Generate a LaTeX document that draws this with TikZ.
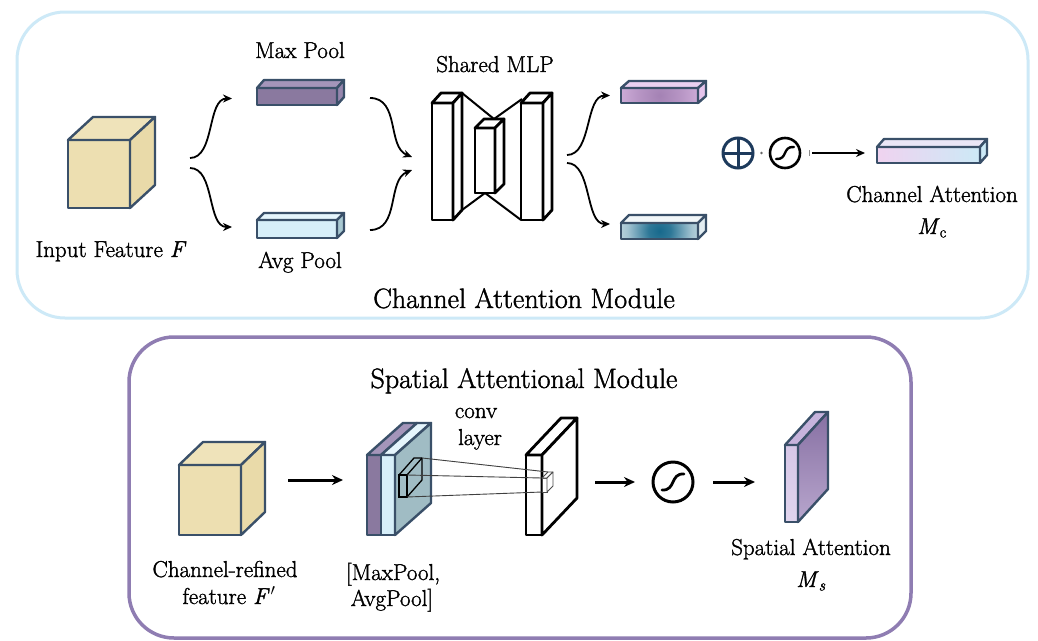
\RequirePackage{fix-cm}
\documentclass[tikz,border=0pt]{standalone}
\usepackage{fontspec}
\setmainfont{Latin Modern Roman}[FakeBold=1.4]
\usetikzlibrary{calc,arrows.meta}

% palette
\definecolor{edgec}{HTML}{3A5069}
\definecolor{cubefront}{HTML}{EDDFB1}
\definecolor{cubetop}{HTML}{EFE3BA}
\definecolor{cubeside}{HTML}{E9DAA9}
\definecolor{maxfront}{HTML}{8A799F}
\definecolor{maxtop}{HTML}{A495BA}
\definecolor{maxside}{HTML}{9686AD}
\definecolor{avgfront}{HTML}{D7EFF9}
\definecolor{avgtop}{HTML}{E5F5FC}
\definecolor{avgside}{HTML}{A8C8D1}
\definecolor{chframe}{HTML}{CDE9F7}
\definecolor{spframe}{HTML}{8F7DB2}
\definecolor{navy}{HTML}{1D3A5C}
\definecolor{tealdk}{HTML}{17698C}
\definecolor{lilac}{HTML}{E5C4EC}
\definecolor{lilacdk}{HTML}{A482B4}
\definecolor{mcpink}{HTML}{F0D3F0}
\definecolor{mcblue}{HTML}{CCE9F6}
\definecolor{stackside}{HTML}{A0BCC4}
\definecolor{spfront}{HTML}{D9CAE9}
\definecolor{sptop}{HTML}{C6B3DC}
\definecolor{spsidetop}{HTML}{8770A3}
\definecolor{spsidebot}{HTML}{B8A6CD}

% soft spots for the pooled descriptors after the MLP
\pgfdeclareradialshading{tealspot}{\pgfpoint{0bp}{0bp}}{color(0bp)=(tealdk); color(7bp)=(tealdk!90!white); color(20bp)=(tealdk!40!white); color(35bp)=(tealdk!10!white); color(50bp)=(white)}
\pgfdeclareradialshading{lilacspot}{\pgfpoint{0bp}{0bp}}{color(0bp)=(lilacdk); color(12bp)=(lilacdk!70!lilac); color(30bp)=(lilac!90!lilacdk); color(50bp)=(lilac)}

% top and right faces of a box whose front face is the node #1
% #2,#3 depth offset, #4 top fill, #5 side fill, #6 stroke options
\newcommand\boxfaces[6]{%
  \filldraw[boxedge, #6, fill=#4] (#1.north west) -- ++(#2,#3) -- ($(#1.north east)+(#2,#3)$) -- (#1.north east) -- cycle;
  \filldraw[boxedge, #6, fill=#5] (#1.north east) -- ++(#2,#3) -- ($(#1.south east)+(#2,#3)$) -- (#1.south east) -- cycle;}

\tikzset{
  boxedge/.style={line width=2.4pt, line join=round},
  face/.style={rectangle, line width=2.4pt, line join=round, inner sep=0pt, outer sep=0pt},
  lbl/.style={font=\fontsize{23}{27}\selectfont, anchor=base, inner sep=0pt},
  ttl/.style={font=\fontsize{28}{32}\selectfont, anchor=base, inner sep=0pt},
  flow/.style={line width=1.8pt, -{Stealth[length=9pt,width=8pt]}},
  bigflow/.style={line width=3pt, -{Stealth[length=11pt,width=10pt]}},
  mlpwire/.style={line width=2pt},
  thinwire/.style={line width=0.9pt, black!75},
  sigpath/.style={line width=2.4pt, line cap=round},
}

\begin{document}
\begin{tikzpicture}[x=1pt, y=-1pt]
\useasboundingbox (0,0) rectangle (1038,640);
\fill[white] (0,0) rectangle (1038,640);

% ---------------- module frames ----------------
\draw[line width=3pt, draw=chframe, rounded corners=48pt] (17,12) rectangle (1028,318);
\draw[line width=3.5pt, draw=spframe, rounded corners=45pt] (129,337) rectangle (911,638);

% ================= channel attention =================
% input feature cube
\node[face, draw=edgec, fill=cubefront, minimum width=62pt, minimum height=68pt, anchor=north west] (cubeA) at (68,140) {};
\boxfaces{cubeA}{25}{-23}{cubetop}{cubeside}{draw=edgec}
\node[lbl] (lblIn) at (111,257) {Input Feature \textit{F}};

% pooled descriptors
\node[face, draw=edgec, fill=maxfront, minimum width=80pt, minimum height=17pt, anchor=north west] (maxp) at (257,88) {};
\boxfaces{maxp}{7}{-8}{maxtop}{maxside}{draw=edgec}
\node[face, draw=edgec, fill=avgfront, minimum width=80pt, minimum height=18pt, anchor=north west] (avgp) at (257,220) {};
\boxfaces{avgp}{7}{-7}{avgtop}{avgside}{draw=edgec}
\node[lbl] (lblMax) at (300,58) {Max Pool};
\node[lbl] (lblAvg) at (300,268) {Avg Pool};

% shared MLP
\node[face, draw=black, line width=2.8pt, fill=white, minimum width=21pt, minimum height=117pt, anchor=north west] (mlpL) at (432,103) {};
\node[face, draw=black, line width=2.8pt, fill=white, minimum width=22pt, minimum height=117pt, anchor=north west] (mlpR) at (521,103) {};
\node[face, draw=black, line width=2.8pt, fill=white, minimum width=20pt, minimum height=65pt, anchor=north west] (mlpM) at (475,128) {};
\draw[mlpwire] ($(mlpL.north east)+(9,-10)$) -- ($(mlpM.north)+(9,-9)$);
\draw[mlpwire] ($(mlpR.north west)+(1,-4)$) -- ($(mlpM.north)+(9,-9)$);
\draw[mlpwire] ($(mlpL.south east)+(9,-10)$) -- (mlpM.south);
\draw[mlpwire] (mlpR.south west) -- (mlpM.south);
\boxfaces{mlpL}{9}{-10}{white}{white}{draw=black, line width=2.8pt}
\boxfaces{mlpR}{9}{-10}{white}{white}{draw=black, line width=2.8pt}
\node[face, draw=black, line width=2.8pt, fill=white, minimum width=20pt, minimum height=65pt, anchor=north west] (mlpM2) at (475,128) {};
\boxfaces{mlpM2}{9}{-9}{white}{white}{draw=black, line width=2.8pt}
\node[lbl] (lblMLP) at (495,72) {Shared MLP};

% MLP outputs
\node[face, draw=edgec, minimum width=77pt, minimum height=15pt, anchor=north west,
      path picture={\shade[shading=lilacspot] (path picture bounding box.center) circle (45pt);}] (outA) at (621,88) {};
\boxfaces{outA}{8}{-7}{lilac!80!white}{lilac}{draw=edgec}
\node[face, draw=edgec, minimum width=77pt, minimum height=16pt, anchor=north west,
      path picture={\shade[shading=tealspot] (path picture bounding box.center) circle (40pt);}] (outB) at (621,223) {};
\boxfaces{outB}{8}{-8}{tealdk!6!white}{tealdk!12!white}{draw=edgec}

% curved flows
\draw[flow] ($(cubeA.east)+(60,-16)$) .. controls +(25,0) and +(-25,0) .. ($(maxp.west)+(-25,2)$);
\draw[flow] ($(cubeA.east)+(60,-6)$) .. controls +(25,0) and +(-25,0) .. ($(avgp.west)+(-25,-2)$);
\draw[flow] ($(maxp.east)+(33,1.5)$) .. controls +(30,0) and +(-25,-10) .. ($(mlpL.west)+(-20,-4.5)$);
\draw[flow] ($(avgp.east)+(33,1)$) .. controls +(30,0) and +(-25,10) .. ($(mlpL.west)+(-20,8.5)$);
\draw[flow] ($(mlpR.east)+(24,-6.5)$) .. controls +(25,0) and +(-25,0) .. ($(outA.west)+(-11,0)$);
\draw[flow] ($(mlpR.east)+(24,1.5)$) .. controls +(25,0) and +(-25,0) .. ($(outB.west)+(-11,-7)$);

% sum and sigmoid
\node[circle, draw=navy, line width=3pt, minimum size=30pt, inner sep=0pt, outer sep=0pt] (plus) at (738,153) {};
\draw[navy, line width=3pt] (plus.north) -- (plus.south) (plus.west) -- (plus.east);
\node[circle, draw=black, line width=2.6pt, minimum size=30pt, inner sep=0pt, outer sep=0pt] (sigA) at (785,153) {};
\draw[sigpath] ($(sigA)+(-9,6)$) .. controls ($(sigA)+(3,7)$) and ($(sigA)+(-3,-7)$) .. ($(sigA)+(9,-6)$);
\fill[black!60] ($(plus.east)!0.5!(sigA.west)$) circle (1.3pt);
\draw[black!45, line width=1pt] ($(sigA.east)+(9,-3)$) -- ($(sigA.east)+(9,3)$);

% channel attention map
\node[face, draw=edgec, left color=mcpink, right color=mcblue, minimum width=103pt, minimum height=16pt, anchor=north west] (mc) at (877,147) {};
\boxfaces{mc}{7}{-8}{mcpink!60!mcblue!70!white}{mcblue}{draw=edgec}
\draw[flow, line width=2.4pt] ($(sigA.east)+(12,0)$) -- ($(mc.west)+(-12,-2)$);
\node[lbl] (lblCA) at (932,202) {Channel Attention};
\node[lbl] (lblMc) at (932,234) {\textit{M}\textsubscript{c}};

\node[ttl] (ttlCA) at (524,308) {Channel Attention Module};

% ================= spatial attention =================
\node[ttl] (ttlSA) at (524,388) {Spatial Attentional Module};

% refined feature cube
\node[face, draw=edgec, fill=cubefront, minimum width=62pt, minimum height=70pt, anchor=north west] (cubeB) at (179,465) {};
\boxfaces{cubeB}{24}{-23}{cubetop}{cubeside}{draw=edgec}
\node[lbl] (lblRef1) at (225,577) {Channel-refined};
\node[lbl] (lblRef2) at (229,604) {feature \textit{F}\kern1pt$'$};

% stacked pooled maps
\node[face, draw=edgec, fill=maxfront, minimum width=14pt, minimum height=80pt, anchor=north west] (stkMax) at (367,455) {};
\node[face, draw=edgec, fill=avgfront, minimum width=14pt, minimum height=80pt, anchor=north west] (stkAvg) at (381,455) {};
\filldraw[boxedge, draw=edgec, fill=maxtop] (stkMax.north west) -- ++(36,-32) -- ($(stkMax.north east)+(36,-32)$) -- (stkMax.north east) -- cycle;
\boxfaces{stkAvg}{36}{-32}{avgtop}{stackside}{draw=edgec}
\node[lbl] (lblStk1) at (393,580) {[MaxPool,};
\node[lbl] (lblStk2) at (392,606) {AvgPool]};

% convolution kernel
\node[draw=black, line width=1.3pt, minimum width=8pt, minimum height=22pt, inner sep=0pt, outer sep=0pt, anchor=north west] (kern) at (399,475) {};
\draw[black, line width=1.3pt, line join=round] (kern.north west) -- ++(15,-17) -- ($(kern.north east)+(15,-17)$) -- ($(kern.south east)+(15,-17)$) -- (kern.south east);
\draw[black, line width=1.3pt] (kern.north east) -- ++(15,-17);

% conv layer output
\node[face, draw=black, line width=2.8pt, fill=white, minimum width=16pt, minimum height=80pt, anchor=north west] (conv) at (526,455) {};
\boxfaces{conv}{35}{-37}{white}{white}{draw=black, line width=2.8pt}
\node[lbl] (lblConv1) at (476,418) {conv};
\node[lbl] (lblConv2) at (480,445) {layer};

\node[draw=black!70, line width=0.8pt, fill=white, minimum width=5pt, minimum height=14pt, inner sep=0pt, outer sep=0pt, anchor=north west] (patch) at (542,478) {};
\draw[thinwire] ($(kern.north east)+(15,-17)$) -- ($(patch.north west)+(6,-6)$);
\draw[thinwire] (kern.north east) -- (patch.north west);
\draw[thinwire] (kern.south east) -- (patch.south west);
\boxfaces{patch}{6}{-6}{white}{white}{draw=black!70, line width=0.8pt}

% sigmoid
\node[circle, draw=black, line width=3pt, minimum size=40pt, inner sep=0pt, outer sep=0pt] (sigB) at (673,482) {};
\draw[sigpath, line width=2.8pt] ($(sigB)+(-11,8)$) .. controls ($(sigB)+(3,9)$) and ($(sigB)+(-3,-9)$) .. ($(sigB)+(11,-8)$);

% spatial attention map
\node[face, draw=edgec, top color=spfront!85!sptop, bottom color=spfront!80!white, minimum width=13pt, minimum height=77pt, anchor=north west] (spat) at (785,445) {};
\filldraw[boxedge, draw=edgec, fill=sptop] (spat.north west) -- ++(30,-33) -- ($(spat.north east)+(30,-33)$) -- (spat.north east) -- cycle;
\path[boxedge, draw=edgec, top color=spsidetop, bottom color=spsidebot] (spat.north east) -- ++(30,-33) -- ($(spat.south east)+(30,-33)$) -- (spat.south east) -- cycle;
\node[lbl] (lblSA) at (811,555) {Spatial Attention};
\node[lbl] (lblMs) at (811,587) {\textit{M}\textsubscript{\textit{s}}};

% straight flows
\draw[bigflow] ($(cubeB.east)+(47,-20)$) -- ($(stkMax.west)+(-24,-15)$);
\draw[bigflow] ($(conv.east)+(53,-13)$) -- ($(sigB.west)+(-18,0)$);
\draw[bigflow] ($(sigB.east)+(20,0)$) -- ($(spat.west)+(-30,-1.5)$);
\end{tikzpicture}
\end{document}
